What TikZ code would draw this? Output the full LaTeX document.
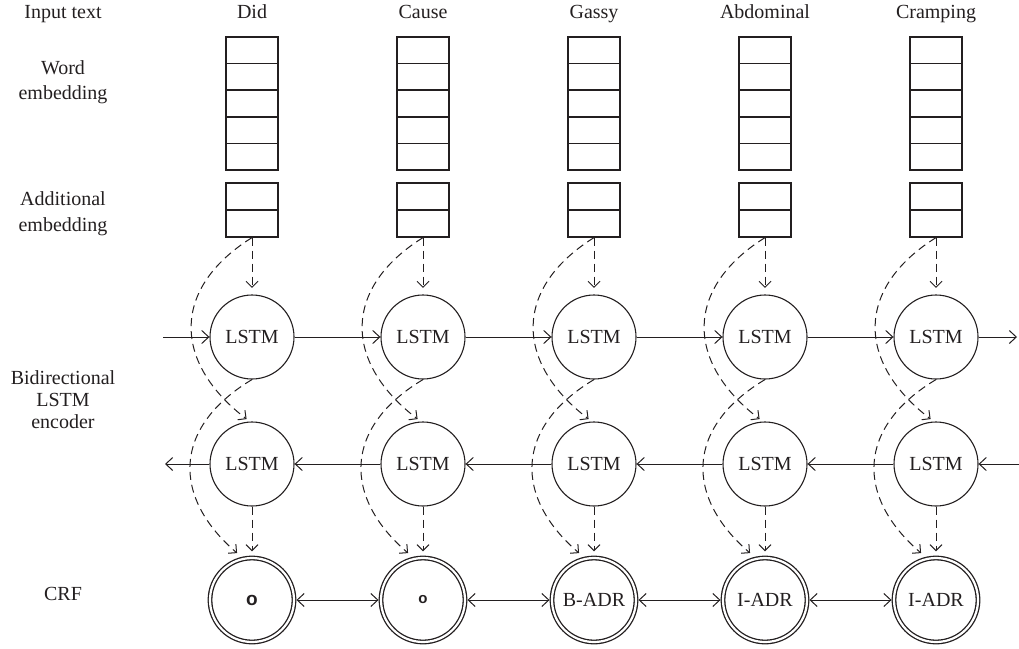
\documentclass[tikz,border=0pt]{standalone}
\usepackage{fontspec}
\setmainfont{Liberation Serif}
\newfontfamily\sansf{Liberation Sans}
\usetikzlibrary{arrows.meta,calc}
\definecolor{ink}{RGB}{35,31,32}
\begin{document}
\begin{tikzpicture}[x=1pt,y=-1pt,
  font=\fontsize{20}{22}\selectfont,
  every node/.style={text=ink},
  lbl/.style={align=center, inner sep=0pt},
  hdr/.style={anchor=base, inner sep=0pt},
  wbox/.style={draw=ink, line width=1.2pt, minimum width=52pt, minimum height=133pt, inner sep=0pt},
  abox/.style={draw=ink, line width=1.2pt, minimum width=52pt, minimum height=54pt, inner sep=0pt},
  cellline/.style={draw=ink, line width=1.2pt},
  lstm/.style={circle, draw=ink, line width=1.1pt, minimum size=84pt, inner sep=0pt},
  crf/.style={circle, draw=ink, double=white, double distance=2.2pt, line width=1.3pt, minimum size=84pt, inner sep=0pt},
  arr/.style={draw=ink, line width=1pt, -{Straight Barb[length=7pt,width=13pt]}},
  darr/.style={draw=ink, line width=1pt, {Straight Barb[length=7pt,width=13pt]}-{Straight Barb[length=7pt,width=13pt]}, shorten <=1.8pt, shorten >=1.8pt},
  dsh/.style={draw=ink, line width=1pt, dash pattern=on 8pt off 5pt, -{Straight Barb[length=6pt,width=12pt]}}
]
\useasboundingbox (0,0) rectangle (1019,648);

% left labels
\node[hdr] (lin) at (63,18.7) {Input text};
\node[lbl, font=\fontsize{20}{25}\selectfont] (lwe) at (63,82.7) {Word\\embedding};
\node[lbl, font=\fontsize{20}{26}\selectfont] (lae) at (63,213.5) {Additional\\embedding};
\node[lbl, font=\fontsize{20}{21.7}\selectfont] (lbi) at (63,399.6) {Bidirectional\\LSTM\\encoder};
\node[hdr] (lcrf) at (63,600) {CRF};

\foreach \i/\x/\w in {1/252/Did,2/423/Cause,3/594/Gassy,4/765/Abdominal,5/936/Cramping}{
  \node[hdr] (h\i) at (\x,18.5) {\w};
  \node[wbox] (we\i) at (\x,103.5) {};
  \foreach \k in {1,...,4}
    \draw[cellline] ($(we\i.north west)!\k/5!(we\i.south west)$) -- ($(we\i.north east)!\k/5!(we\i.south east)$);
  \node[abox] (ae\i) at (\x,210) {};
  \draw[cellline] (ae\i.west) -- (ae\i.east);
  \node[lstm] (f\i) at (\x,337) {LSTM};
  \node[lstm] (b\i) at (\x,464) {LSTM};
}

\node[crf] (c1) at (252,600) {\sansf\bfseries\fontsize{19}{19}\selectfont o};
\node[crf] (c2) at (423,600) {\sansf\bfseries\fontsize{15}{15}\selectfont o};
\node[crf] (c3) at (594,600) {B-ADR};
\node[crf] (c4) at (765,600) {I-ADR};
\node[crf] (c5) at (936,600) {I-ADR};

\foreach \i in {1,...,5}{
  \draw[dsh, shorten >=6.5pt] (ae\i.south) -- (f\i.north);
  \draw[dsh, shorten >=4pt] (ae\i.south) .. controls +(-80,50) and +(-78,-60) .. (b\i.93);
  \draw[dsh, shorten >=8pt] (f\i.south) .. controls +(-80,48) and +(-71,-61) .. (c\i.102);
  \draw[dsh, shorten >=6pt] (b\i.south) -- (c\i.north);
}

% forward LSTM row
\coordinate (fin) at (163,337);
\coordinate (fout) at (1017,337);
\draw[arr] (fin) -- (f1);
\draw[arr] (f1) -- (f2);
\draw[arr] (f2) -- (f3);
\draw[arr] (f3) -- (f4);
\draw[arr] (f4) -- (f5);
\draw[arr] (f5) -- (fout);

% backward LSTM row
\coordinate (bout) at (165,464);
\coordinate (bin) at (1019,464);
\draw[arr] (bin) -- (b5);
\draw[arr] (b5) -- (b4);
\draw[arr] (b4) -- (b3);
\draw[arr] (b3) -- (b2);
\draw[arr] (b2) -- (b1);
\draw[arr] (b1) -- (bout);

% CRF row
\draw[darr] (c1) -- (c2);
\draw[darr] (c2) -- (c3);
\draw[darr] (c3) -- (c4);
\draw[darr] (c4) -- (c5);
\end{tikzpicture}
\end{document}
